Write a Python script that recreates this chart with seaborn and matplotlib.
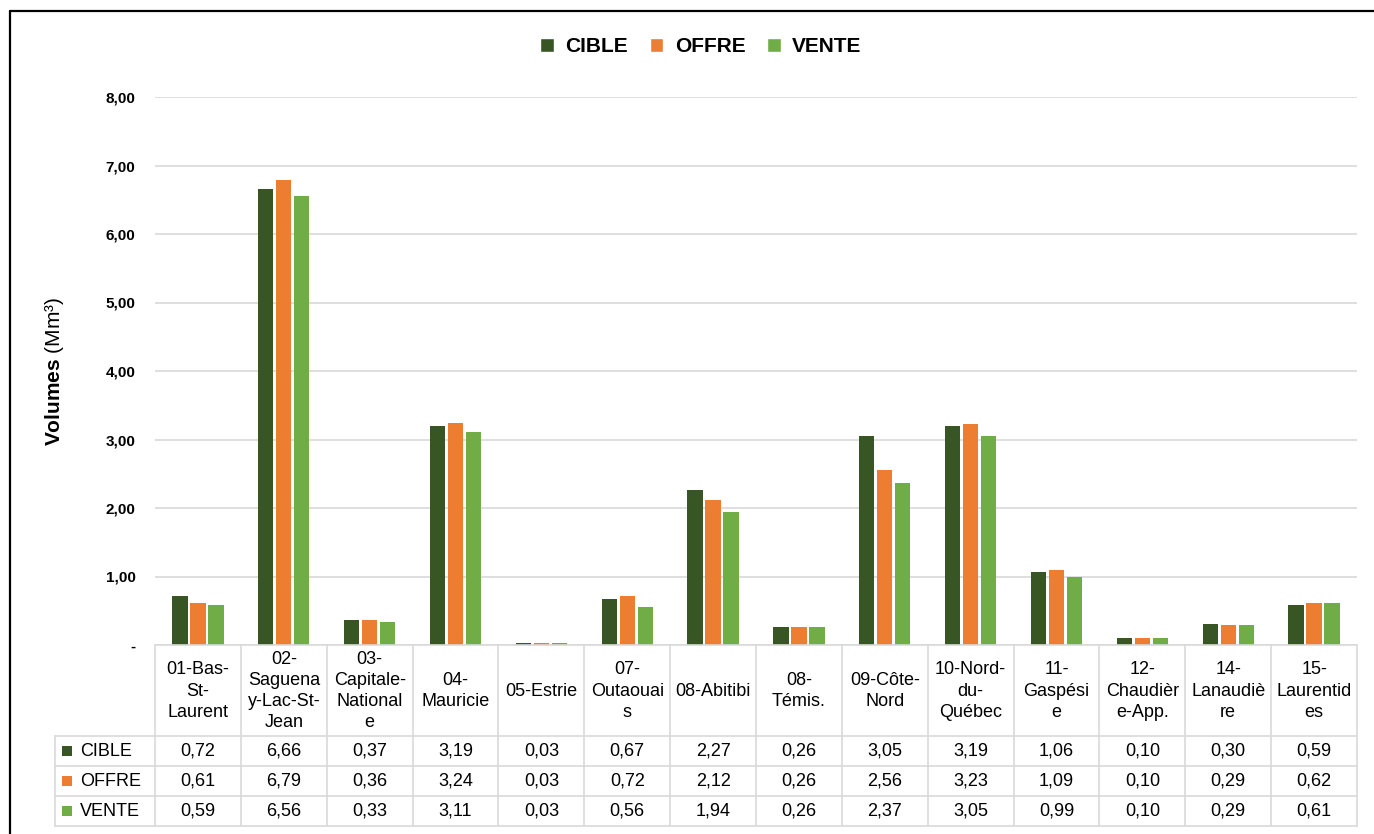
import pandas as pd
import seaborn as sns
import matplotlib.pyplot as plt
from matplotlib.lines import Line2D
from matplotlib.patches import Patch, Rectangle
from matplotlib import transforms

# data
regions = ['01-Bas-St-Laurent', '02-Saguenay-Lac-St-Jean', '03-Capitale-Nationale',
           '04-Mauricie', '05-Estrie', '07-Outaouais', '08-Abitibi', '08-Témis.',
           '09-Côte-Nord', '10-Nord-du-Québec', '11-Gaspésie', '12-Chaudière-App.',
           '14-Lanaudière', '15-Laurentides']
header_labels = ['01-Bas-\nSt-\nLaurent', '02-\nSaguena\ny-Lac-St-\nJean',
                 '03-\nCapitale-\nNational\ne', '04-\nMauricie', '05-Estrie',
                 '07-\nOutaouai\ns', '08-Abitibi', '08-\nTémis.', '09-Côte-\nNord',
                 '10-Nord-\ndu-\nQuébec', '11-\nGaspési\ne', '12-\nChaudièr\ne-App.',
                 '14-\nLanaudiè\nre', '15-\nLaurentid\nes']
cible = [0.72, 6.66, 0.37, 3.19, 0.03, 0.67, 2.27, 0.26, 3.05, 3.19, 1.06, 0.10, 0.30, 0.59]
offre = [0.61, 6.79, 0.36, 3.24, 0.03, 0.72, 2.12, 0.26, 2.56, 3.23, 1.09, 0.10, 0.29, 0.62]
vente = [0.59, 6.56, 0.33, 3.11, 0.03, 0.56, 1.94, 0.26, 2.37, 3.05, 0.99, 0.10, 0.29, 0.61]
series = ['CIBLE', 'OFFRE', 'VENTE']
colors = ['#375623', '#ED7D31', '#70AD47']
y_ticks = [0, 1, 2, 3, 4, 5, 6, 7, 8]

df = pd.DataFrame({'Région': regions * 3,
                   'Série': [s for s in series for _ in regions],
                   'Volume': cible + offre + vente})

sns.set_style('white')
plt.rcParams['font.family'] = ['Liberation Sans', 'DejaVu Sans']
plt.rcParams['text.color'] = 'black'
plt.rcParams['ytick.color'] = 'black'
plt.rcParams['ytick.labelcolor'] = 'black'
plt.rcParams['mathtext.fontset'] = 'custom'
plt.rcParams['mathtext.bf'] = 'Liberation Sans:bold'
plt.rcParams['mathtext.rm'] = 'Liberation Sans'

W, H = 1374, 834
fig = plt.figure(figsize=(W / 100, H / 100), dpi=100)

def fx(px):
    return px / W

def fy(py):
    return 1 - py / H

left, right, top, bottom = 155, 1357, 97, 645
ax = fig.add_axes([fx(left), fy(bottom), fx(right - left), (bottom - top) / H])

sns.barplot(data=df, x='Région', y='Volume', hue='Série', hue_order=series,
            palette=colors, width=0.63, gap=0.15, saturation=1, linewidth=0,
            legend=False, ax=ax)

ax.set_xlim(-0.5, len(regions) - 0.5)
ax.set_ylim(0, 8)
ax.set_yticks(y_ticks)
ax.set_yticklabels(['-' if v == 0 else f'{v:.2f}'.replace('.', ',') for v in y_ticks],
                   fontsize=11, fontweight='bold')
ax.tick_params(axis='y', length=0, pad=14)
ax.set_xticks([])
ax.set_xlabel('')
ax.set_ylabel('')
for s in ax.spines.values():
    s.set_visible(False)
ax.grid(axis='y', color='#d9d9d9', linewidth=1.2)
ax.set_axisbelow(True)

fig.text(fx(55), fy((top + bottom) / 2), r'$\mathbf{Volumes}$ (Mm³)', rotation=90,
         ha='center', va='center', fontsize=15)

# legend on top
handles = [Patch(facecolor=c, label=s) for c, s in zip(colors, series)]
fig.legend(handles=handles, loc='center', bbox_to_anchor=(fx(701), fy(47)), ncol=3,
           frameon=False, handlelength=0.65, handleheight=0.65, handletextpad=0.55,
           columnspacing=1.05, prop={'weight': 'bold', 'size': 15})

# data table under the axis
tr = transforms.blended_transform_factory(ax.transData, fig.transFigure)
grid_c = '#d9d9d9'
rows_y = [645, 736, 766, 796, 826]
n = len(regions)
fig.add_artist(Line2D([-0.5, n - 0.5], [fy(645)] * 2, transform=tr, color=grid_c, lw=1.2))
for yy in rows_y[1:]:
    fig.add_artist(Line2D([fx(55), fx(right)], [fy(yy)] * 2, transform=fig.transFigure,
                          color=grid_c, lw=1.2))
for i in range(n + 1):
    fig.add_artist(Line2D([i - 0.5] * 2, [fy(645), fy(826)], transform=tr,
                          color=grid_c, lw=1.2))
fig.add_artist(Line2D([fx(55)] * 2, [fy(736), fy(826)], transform=fig.transFigure,
                      color=grid_c, lw=1.2))

for i, lab in enumerate(header_labels):
    fig.text(i, fy(691), lab, transform=tr, ha='center', va='center',
             fontsize=13, linespacing=1.33)

for r, (s, c, vals) in enumerate(zip(series, colors, [cible, offre, vente])):
    yc = fy((rows_y[r + 1] + rows_y[r + 2]) / 2)
    fig.add_artist(Rectangle((fx(62), yc - 5 / H), 10 / W, 10 / H,
                             transform=fig.transFigure, color=c, lw=0))
    fig.text(fx(80), yc, s, ha='left', va='center', fontsize=13)
    for i, v in enumerate(vals):
        fig.text(i, yc, f'{v:.2f}'.replace('.', ','), transform=tr, ha='center',
                 va='center', fontsize=13)

# outer frame (top and left edges visible)
fig.add_artist(Line2D([fx(10), 1.01], [fy(11)] * 2, transform=fig.transFigure,
                      color='black', lw=1.6))
fig.add_artist(Line2D([fx(10)] * 2, [fy(11), -0.01], transform=fig.transFigure,
                      color='black', lw=1.6))

fig.savefig('out.png', dpi=100)
